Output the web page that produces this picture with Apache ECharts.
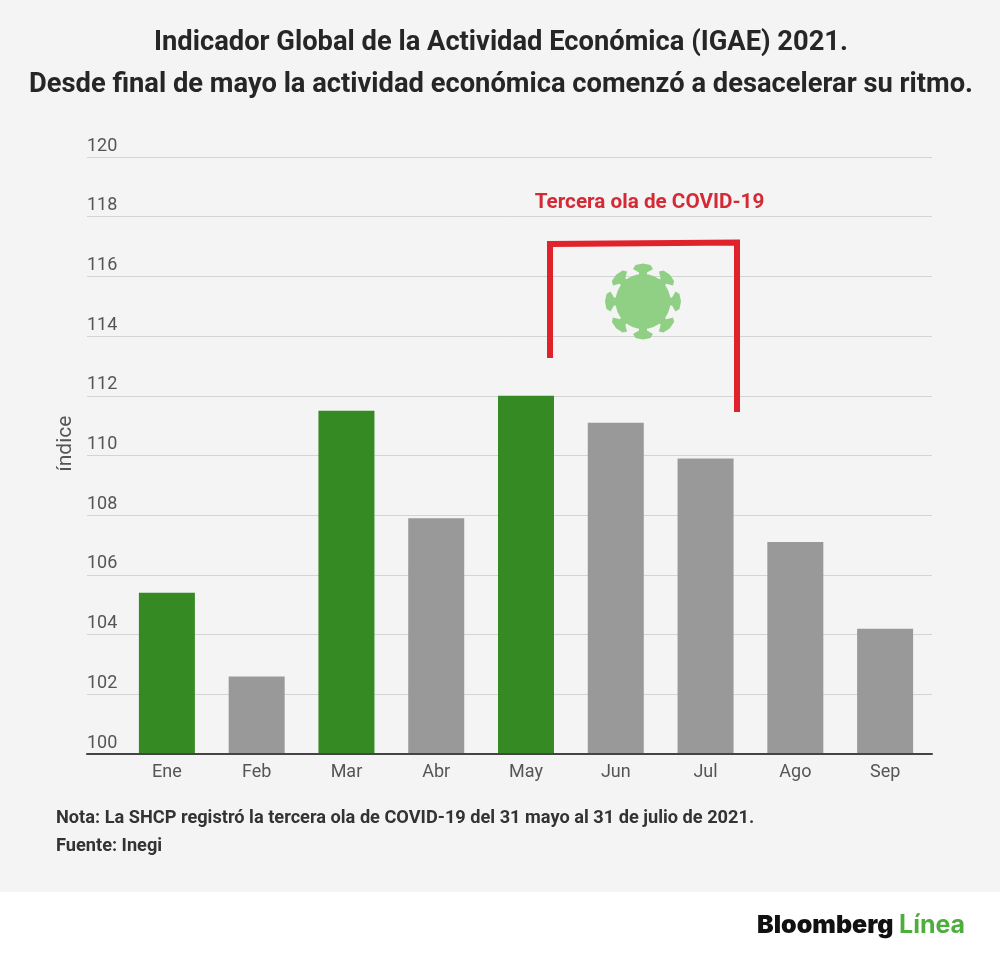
<!DOCTYPE html>
<html><head><meta charset="utf-8">
<style>html,body{margin:0;padding:0;background:#fff}#c{width:1000px;height:959px}</style>
<script src="https://cdn.jsdelivr.net/npm/echarts@6/dist/echarts.min.js"></script>
</head><body><div id="c"></div>
<script>
const categories = ['Ene','Feb','Mar','Abr','May','Jun','Jul','Ago','Sep'];
const values = [105.4,102.6,111.5,107.9,112.0,111.1,109.9,107.1,104.2];
const highlighted = ['Ene','Mar','May'];
const titleLines = 'Indicador Global de la Actividad Económica (IGAE) 2021.\nDesde final de mayo la actividad económica comenzó a desacelerar su ritmo.';
const noteLines = ['Nota: La SHCP registró la tercera ola de COVID-19 del 31 mayo al 31 de julio de 2021.','Fuente: Inegi'];
const F = 'Roboto';
const GREEN = '#358a23', GRAY = '#999999', RED = '#e0222c', TXT = '#555555';

const chart = echarts.init(document.getElementById('c'), null, {renderer:'canvas'});

// virus icon: body plus eight flared spikes
function virus(cx, cy){
  const col = '#8fd084', els = [{type:'circle',shape:{cx,cy,r:27.5},style:{fill:col},z:5}];
  for(let i=0;i<8;i++){
    const a = i*Math.PI/4, pts = [[-4,26],[-4,29],[-10,32.5],[-7.5,36.5],[0,38],[7.5,36.5],[10,32.5],[4,29],[4,26]];
    els.push({type:'polygon',z:5,style:{fill:col},shape:{points:pts.map(([u,r])=>[
      cx+r*Math.cos(a)-u*Math.sin(a), cy+r*Math.sin(a)+u*Math.cos(a)])}});
  }
  return els;
}

chart.setOption({
  animation:false,
  backgroundColor:'#ffffff',
  title:{text:titleLines,left:496,top:17,textAlign:'center',
    textStyle:{fontFamily:F,fontSize:27.3,fontWeight:'bold',color:'#262626',lineHeight:42}},
  grid:[
    {left:122,right:70,top:157,height:597},
    {left:87,right:68,top:157,height:597}
  ],
  xAxis:[
    {type:'category',gridIndex:0,data:categories,
      axisLine:{show:false},axisTick:{show:false},
      axisLabel:{fontFamily:F,fontSize:18,color:TXT,margin:9}},
    {type:'value',gridIndex:1,min:0,max:1,splitLine:{show:false},axisTick:{show:false},axisLabel:{show:false},
      axisLine:{show:true,onZero:false,lineStyle:{color:'#444444',width:2}},z:6}
  ],
  yAxis:[
    {type:'value',gridIndex:0,min:100,max:120,interval:2,show:false},
    {type:'value',gridIndex:1,min:100,max:120,interval:2,
      name:'índice',nameLocation:'middle',nameGap:8,nameRotate:90,
      nameTextStyle:{fontFamily:F,fontSize:21,color:TXT,padding:[0,0,0,24]},
      axisLine:{show:false},axisTick:{show:false},
      splitLine:{show:true,lineStyle:{color:'#d4d4d4',width:1}},
      axisLabel:{inside:true,margin:0,verticalAlign:'bottom',fontFamily:F,fontSize:18,color:TXT,padding:[0,0,2,0]}}
  ],
  series:[{
    type:'bar',xAxisIndex:0,yAxisIndex:0,barWidth:56,z:3,
    data:values.map((v,i)=>({value:v,itemStyle:{color:highlighted.includes(categories[i])?GREEN:GRAY}}))
  }],
  graphic:{elements:[
    {type:'rect',z:-100,silent:true,shape:{x:0,y:0,width:1000,height:892},style:{fill:'#f4f4f4'}},
    {type:'text',x:649.5,y:202.5,style:{text:'Tercera ola de COVID-19',x:0,y:0,align:'center',verticalAlign:'middle',
      font:'bold 20.7px '+F,fill:'#d42a36'}},
    {type:'polyline',z:5,shape:{points:[[550,358],[550,244],[737,242.5],[737,412]]},
      style:{stroke:RED,lineWidth:6,fill:null,lineJoin:'miter'}},
    ...virus(643,301.5),
    {type:'text',x:56,y:818,style:{text:noteLines[0],align:'left',verticalAlign:'middle',font:'bold 18.2px '+F,fill:'#333333'}},
    {type:'text',x:56,y:846,style:{text:noteLines[1],align:'left',verticalAlign:'middle',font:'bold 18.2px '+F,fill:'#333333'}},
    {type:'text',x:757,y:925,style:{text:'Bloomberg',align:'left',verticalAlign:'middle',font:'900 25px Inter',fill:'#111111'}},
    {type:'text',x:899,y:925,style:{text:'Línea',align:'left',verticalAlign:'middle',font:'bold 25px Inter',fill:'#4eae3c'}}
  ]}
});
</script></body></html>
